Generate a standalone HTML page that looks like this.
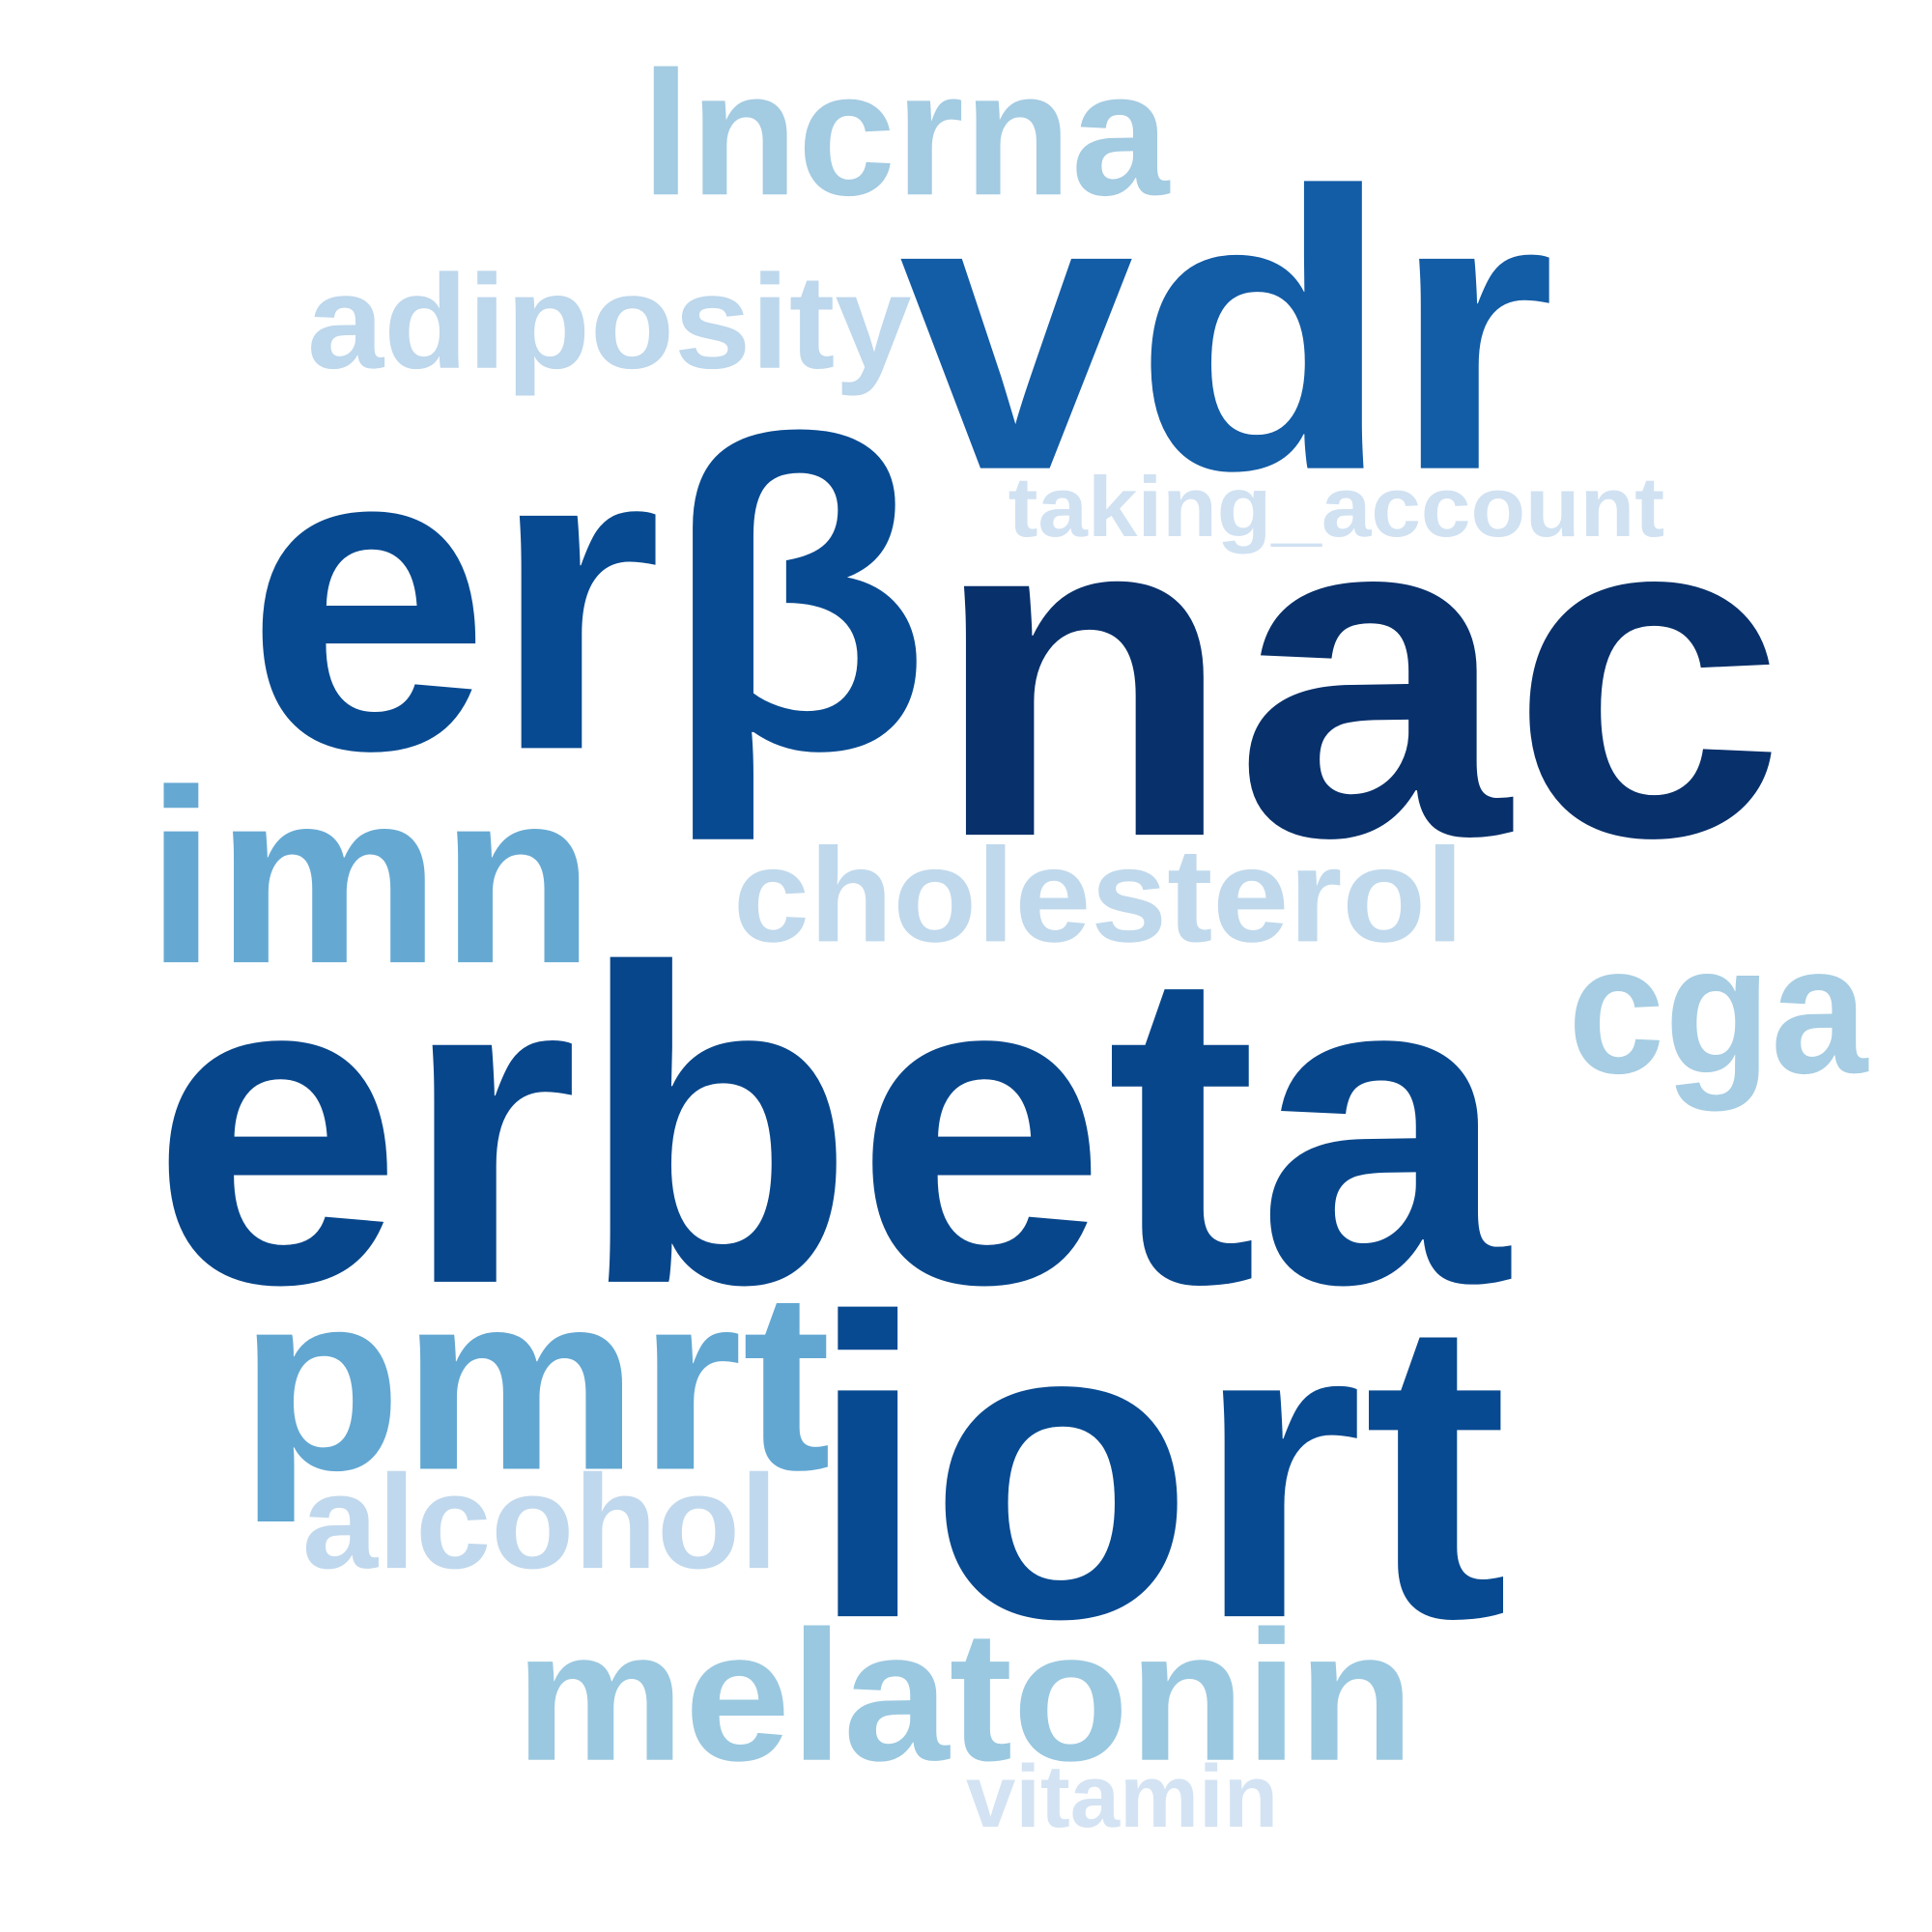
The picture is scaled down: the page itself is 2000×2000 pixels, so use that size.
<!DOCTYPE html>
<html><head><meta charset="utf-8"><style>
html,body{margin:0;padding:0;background:#fff;}
svg{display:block;}
text{font-family:"Liberation Sans",Arial,sans-serif;font-weight:bold;}
</style></head><body>
<svg id="cloud" width="2000" height="2000" viewBox="0 0 1560 1560" xmlns="http://www.w3.org/2000/svg">
<rect width="1560" height="1560" fill="#fff"/>
</svg>
<script>
const words = ["lncrna","vdr","adiposity","taking_account","erβ","nac","imn","cholesterol","cga","erbeta","pmrt","alcohol","iort","melatonin","vitamin"];
const sizes = [143,320,108,69,355,380,200,108,148,362,205,108,345,150,72];
const colors = ["#a3cbe2","#135ca6","#bdd7ec","#d0e1f2","#084a91","#08306b","#65a9d3","#bfd8ec","#a6cde3","#08468b","#62a7d2","#c0d8ed","#084a91","#9ac8e0","#d3e3f3"];
const posX = [518,726,248,814,198,752,118,592,1266,122,193,244,652,416,780];
const posY = [157,378,297,433,604,674,777,760,866,1035,1186,1266,1305,1421,1475];
const widths = [426,530,488,530,554,690,362,590,242,1096,478,384,566,726,252];
const svg = document.getElementById('cloud');
words.forEach((w,i)=>{
  const t = document.createElementNS('http://www.w3.org/2000/svg','text');
  
  
  t.setAttribute('x', posX[i]);
  t.setAttribute('y', posY[i]);
  t.setAttribute('font-size', sizes[i]);
  t.setAttribute('fill', colors[i]);
  t.setAttribute('textLength', widths[i]);
  t.setAttribute('lengthAdjust', 'spacingAndGlyphs');
  t.textContent = w;
  svg.appendChild(t);
});
</script>
</body></html>
